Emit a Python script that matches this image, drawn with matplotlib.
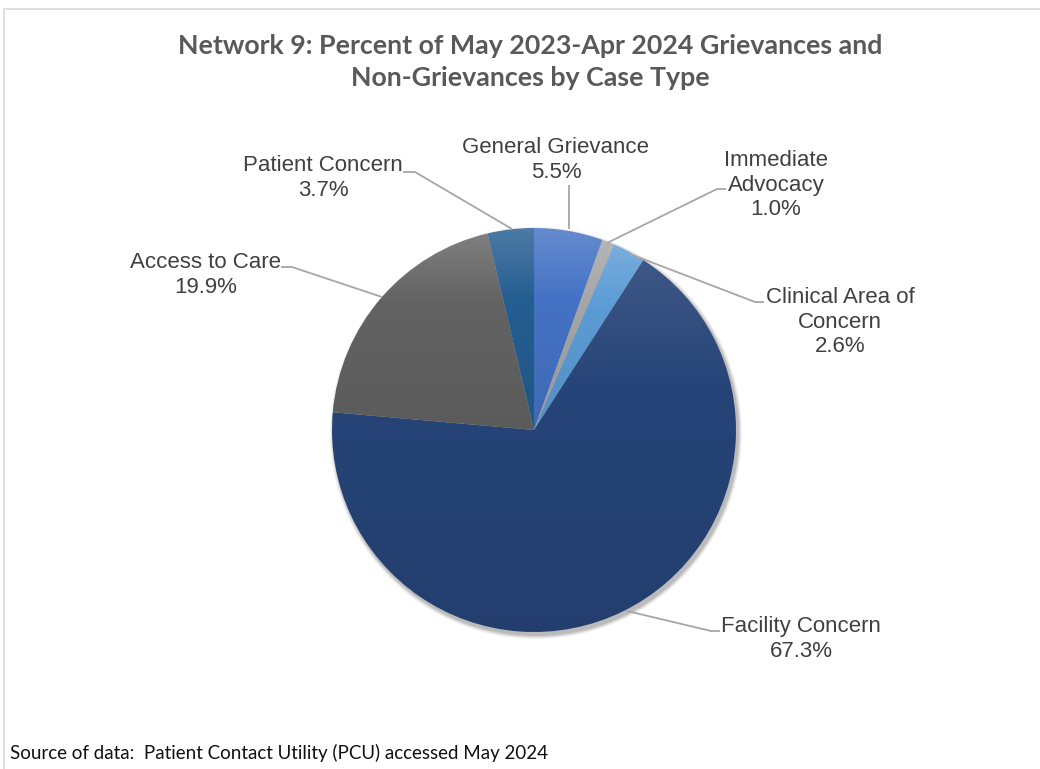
import numpy as np
import matplotlib
matplotlib.use("Agg")
import matplotlib.pyplot as plt
from matplotlib.colors import to_rgb
from matplotlib.patches import Circle

# Case types, clockwise from 12 o'clock
categories = ["General Grievance", "Immediate\nAdvocacy", "Clinical Area of\nConcern",
              "Facility Concern", "Access to Care", "Patient Concern"]
percents = [5.5, 1.0, 2.6, 67.3, 19.9, 3.7]
base_colors = ["#4472C4", "#A5A5A5", "#5B9BD5", "#264478", "#636363", "#255E91"]

title = "Network 9: Percent of May 2023-Apr 2024 Grievances and\nNon-Grievances by Case Type"
source = "Source of data:  Patient Contact Utility (PCU) accessed May 2024"

W, H = 1040, 769
fig = plt.figure(figsize=(W / 100, H / 100), dpi=100)
ax = fig.add_axes([0, 0, 1, 1])


def py(y):
    # convert a top-down pixel row into the axes' bottom-up coordinate
    return H - y


cx, cy, r = 534, py(430), 202

# soft drop shadow under the pie
for k, a in enumerate([0.05, 0.06, 0.08, 0.10]):
    ax.add_patch(Circle((cx + 2, cy - 3), r + 4 - k, color="black", alpha=a,
                        lw=0, zorder=2))

wedges, _ = ax.pie(percents, colors=base_colors, startangle=90, counterclock=False,
                   center=(cx, cy), radius=r, frame=True,
                   wedgeprops=dict(linewidth=0, zorder=3))
ax.set_xlim(0, W)
ax.set_ylim(0, H)
ax.set_aspect("equal")
ax.axis("off")

# chart area frame
ax.plot([4, 4, W + 5], [py(H + 5), py(9), py(9)], color="#d9d9d9", lw=1.2,
        solid_capstyle="butt", zorder=1)


def mix(c, other, t):
    c = np.array(c)
    return c * (1 - t) + np.array(other) * t


# vertical gradient fill in each wedge: lighter at its top, reaching the base
# colour about a third of the way down, then slightly darker at the bottom
n = 256
t = np.linspace(0, 1, n)
for w, col in zip(wedges, base_colors):
    base = np.array(to_rgb(col))
    if col == "#264478":
        top = mix(base, (0.62, 0.64, 0.74), 0.2)
    else:
        top = mix(base, (1, 1, 1), 0.18)
    bot = mix(base, (0, 0, 0), 0.08)
    knee = 0.35
    grad = np.empty((n, 3))
    up = t <= knee
    s = (t[up] / knee)[:, None]
    grad[up] = top * (1 - s) + base * s
    s = ((t[~up] - knee) / (1 - knee))[:, None]
    grad[~up] = base * (1 - s) + bot * s
    img = np.repeat(grad[:, None, :], 2, axis=1)
    ext = w.get_path().get_extents()
    im = ax.imshow(img, extent=(ext.x0, ext.x1, ext.y0, ext.y1), origin="upper",
                   aspect="auto", interpolation="bilinear", zorder=3)
    im.set_clip_path(w)
    w.set_facecolor("none")

ax.set_xlim(0, W)
ax.set_ylim(0, H)

# leader lines (pie edge -> elbow -> label)
line_color = "#a6a6a6"
leaders = [
    [(569, 229), (569, 185)],
    [(607, 243), (717, 189), (726, 189)],
    [(630, 254), (755, 302), (764, 302)],
    [(627, 611), (711, 631), (720, 631)],
    [(382, 297), (292, 267), (281, 267)],
    [(512, 229), (415, 172), (403, 172)],
]
for pts in leaders:
    xs = [p[0] for p in pts]
    ys = [py(p[1]) for p in pts]
    ax.plot(xs, ys, color=line_color, lw=1.3, zorder=4, solid_capstyle="butt")

# data labels: name and share
label_pos = [(556, 160), (776, 185), (840, 322), (801, 639), (206, 275), (323, 178)]
lab_font = dict(family="Liberation Sans", fontsize=16, color="#404040")
for name, pct, (lx, ly) in zip(categories, percents, label_pos):
    ax.text(lx, py(ly), f"{name}\n{pct:.1f}%", ha="center", va="center",
            linespacing=1.24, zorder=5, **lab_font)

ax.text(530, py(62), title, ha="center", va="center", fontsize=19.3,
        fontweight="bold", family="Lato", color="#595959", linespacing=1.45)

ax.text(10, py(753), source, ha="left", va="center", fontsize=13.5,
        family="Lato", color="#111111")

fig.savefig("out.png", dpi=100, facecolor="white")
